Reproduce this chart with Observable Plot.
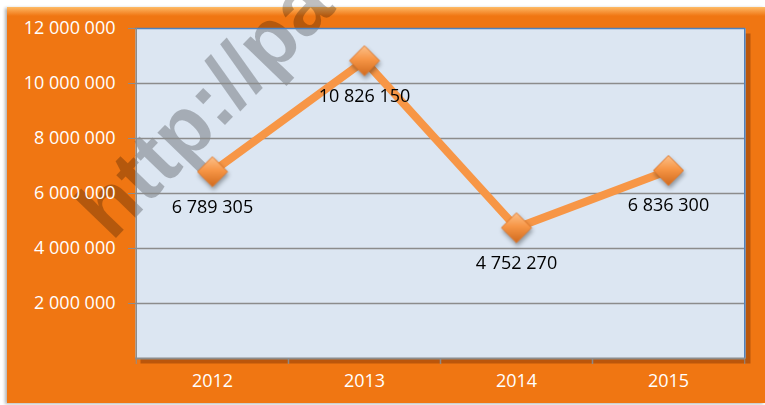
<!DOCTYPE html>
<html><head><meta charset="utf-8">
<script src="https://cdn.jsdelivr.net/npm/d3@7"></script>
<script src="https://cdn.jsdelivr.net/npm/@observablehq/plot@0.6"></script>
<style>
html,body{margin:0;padding:0;background:#fff;}
#wrap{position:relative;width:765px;height:405px;overflow:hidden;}
#panel{position:absolute;left:7px;top:7px;width:758px;height:396px;
  background:linear-gradient(#fdbb66 0px,#f89a40 4px,#f07612 9px,#f07612 100%);
  box-shadow:-2px 1px 3px rgba(0,0,0,0.3);}
#chart{position:absolute;left:0;top:0;}
</style>
</head><body>
<div id="wrap"><div id="panel"></div><div id="chart"></div></div>
<script>
const years = ["2012", "2013", "2014", "2015"];
const revenue = [6789305, 10826150, 4752270, 6836300];
const yTicks = [2000000, 4000000, 6000000, 8000000, 10000000, 12000000];
const gridValues = [2000000, 4000000, 6000000, 8000000, 10000000];
const watermark = "http://pa";

const data = years.map((y, i) => ({year: y, value: revenue[i]}));
const W = 765, H = 405, ML = 135, MR = 20, MT = 28, MB = 47;
const bw = (W - ML - MR) / years.length;
const fmt = v => d3.format(",")(v).replace(/,/g, " ");

const chart = Plot.plot({
  width: W, height: H,
  marginLeft: ML, marginRight: MR, marginTop: MT, marginBottom: MB,
  style: {background: "transparent", fontFamily: "Open Sans", fontSize: "18px", overflow: "visible"},
  x: {type: "band", domain: years, padding: 0},
  y: {domain: [0, 12000000]},
  marks: [
    Plot.frame({fill: "rgba(90,30,0,0.35)", dx: 5, dy: 5}),
    Plot.frame({fill: "#dce6f2"}),
    Plot.ruleY(gridValues, {stroke: "#8c8c8c", strokeWidth: 1.5}),
    Plot.ruleY([12000000], {stroke: "#4f81bd", strokeWidth: 1.5}),
    Plot.ruleX(years.slice(-1), {dx: bw / 2, stroke: "#4f81bd", strokeWidth: 1.5}),
    Plot.ruleX(years.slice(0, 1), {dx: -bw / 2, stroke: "#8c8c8c", strokeWidth: 1.5}),
    Plot.ruleY([0], {stroke: "#8c8c8c", strokeWidth: 2}),
    Plot.axisY({ticks: yTicks, tickFormat: fmt, tickSize: 7, tickPadding: 13, stroke: "#8c8c8c", fill: "white", label: null, fontSize: 18}),
    Plot.axisX({tickSize: 0, tickPadding: 16, fill: "white", label: null, fontSize: 18}),
    Plot.axisX({tickSize: 6, tickFormat: () => "", dx: -bw / 2, stroke: "#8c8c8c", label: null}),
    Plot.axisX({tickSize: 6, tickFormat: () => "", dx: bw / 2, stroke: "#8c8c8c", label: null}),
    Plot.line(data, {x: "year", y: "value", stroke: "#f79646", strokeWidth: 8}),
    Plot.dot(data, {x: "year", y: "value", symbol: "diamond2", r: 13.5, fill: "url(#dg)", stroke: "#e0782a", strokeWidth: 1}),
    Plot.text(data, {x: "year", y: "value", text: d => fmt(d.value), dy: 35, fill: "black", fontSize: 18})
  ]
});

const svg = d3.select(chart);
const defs = svg.insert("defs", ":first-child");
const g = defs.append("linearGradient").attr("id", "dg").attr("x1", 0).attr("y1", 0).attr("x2", 0).attr("y2", 1);
g.append("stop").attr("offset", "0%").attr("stop-color", "#fcc08a");
g.append("stop").attr("offset", "45%").attr("stop-color", "#f79646");
g.append("stop").attr("offset", "100%").attr("stop-color", "#d06a1e");
svg.selectAll('g[aria-label="dot"]').style("filter", "drop-shadow(1px 3px 2px rgba(0,0,0,0.35))");

// watermark, drawn above the backgrounds and below the data
const frames = chart.querySelectorAll('[aria-label="frame"]');
const wm = document.createElementNS("http://www.w3.org/2000/svg", "text");
wm.setAttribute("transform", "translate(112,242) rotate(-46)");
wm.setAttribute("text-anchor", "start");
wm.setAttribute("font-family", "Liberation Sans");
wm.setAttribute("font-weight", "bold");
wm.setAttribute("font-size", "82");
wm.setAttribute("fill", "#000");
wm.setAttribute("fill-opacity", "0.25");
wm.textContent = watermark;
frames[frames.length - 1].after(wm);

document.getElementById("chart").appendChild(chart);
</script>
</body></html>
